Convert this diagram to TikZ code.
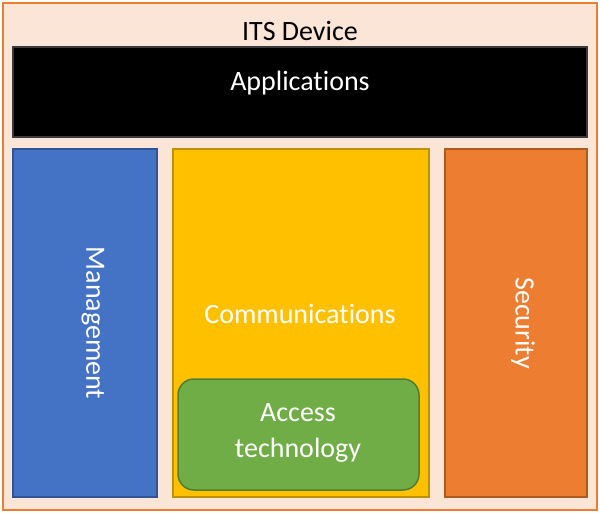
\documentclass[tikz,border=0pt]{standalone}
\usepackage{fontspec}
\setmainfont[RawFeature=-liga]{Carlito}
\definecolor{peach}{HTML}{FBE5D6}
\definecolor{outerline}{HTML}{ED7D31}
\definecolor{mgmtfill}{HTML}{4472C4}
\definecolor{mgmtline}{HTML}{2F5597}
\definecolor{commfill}{HTML}{FFC000}
\definecolor{commline}{HTML}{BF9000}
\definecolor{secfill}{HTML}{ED7D31}
\definecolor{secline}{HTML}{AE5A21}
\definecolor{accfill}{HTML}{70AD47}
\definecolor{accline}{HTML}{507E32}
\definecolor{appline}{HTML}{3A3A3A}
\tikzset{
  blk/.style={line width=1.5pt},
  lbl/.style={font=\fontsize{28}{36}\selectfont, inner sep=0pt},
  wlbl/.style={lbl, text=white}
}
\begin{document}
\begin{tikzpicture}[x=1pt,y=-1pt]
\useasboundingbox (0,0) rectangle (600,514);
\draw[blk, draw=outerline, fill=peach, line width=2pt] (3,3) rectangle (597,510);
\node[lbl] (its) at (300,31) {ITS Device};
\draw[blk, draw=appline, fill=black] (13,47) rectangle (587,137);
\node[wlbl] (app) at (300,83) {Applications};
\draw[blk, draw=mgmtline, fill=mgmtfill] (13,149) rectangle (157,497);
\node[wlbl, rotate=-90] (mgmt) at (93,323) {Management};
\draw[blk, draw=commline, fill=commfill] (173,149) rectangle (429,497);
\node[wlbl] (comm) at (300,314) {Communications};
\draw[blk, draw=secline, fill=secfill] (445,149) rectangle (587,497);
\node[wlbl, rotate=-90] (sec) at (523,323) {Security};
\draw[blk, draw=accline, fill=accfill, rounded corners=16pt] (178,379) rectangle (419,490);
\node[wlbl, align=center] (acc) at (298,433) {Access\\technology};
\end{tikzpicture}
\end{document}
